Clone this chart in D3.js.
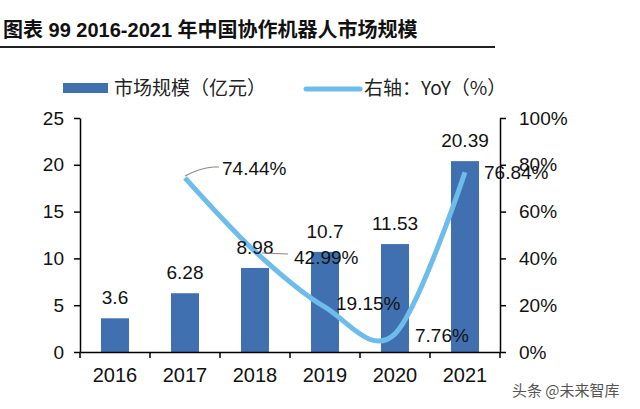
<!DOCTYPE html>
<html><head><meta charset="utf-8">
<script src="https://cdn.jsdelivr.net/npm/d3@7"></script>
<style>body{margin:0;background:#fff;} svg{display:block;}</style>
</head><body>
<svg id="c" width="640" height="409"></svg>
<script>
const years = ["2016","2017","2018","2019","2020","2021"];
const marketSize = [3.6, 6.28, 8.98, 10.7, 11.53, 20.39];
const yoyYears = ["2017","2018","2019","2020","2021"];
const yoy = [74.44, 42.99, 19.15, 7.76, 76.84];
const leftTicks = [0,5,10,15,20,25];
const rightTicks = [0,20,40,60,80,100];

const svg = d3.select("#c");
const latin = "'Liberation Sans', Arial, sans-serif";
const cjk = "'Noto Sans CJK SC', sans-serif";
const mixed = "'Liberation Sans', 'Noto Sans CJK SC', sans-serif";
const barColor = "#4170b0";
const lineColor = "#6dbcec";

const x = d3.scaleBand().domain(years).range([80,500]).paddingInner(0).paddingOuter(0);
const y = d3.scaleLinear().domain([0,25]).range([352,118]);
const y2 = d3.scaleLinear().domain([0,100]).range([352,118]);
const bw = 28;
const cx = d => x(d) + x.bandwidth()/2;

// title
svg.append("text").attr("x",3).attr("y",37).attr("font-family",mixed).attr("font-weight","bold")
  .attr("font-size",20).attr("fill","#111").text("图表 99 2016-2021 年中国协作机器人市场规模");
svg.append("line").attr("x1",0).attr("x2",495).attr("y1",47).attr("y2",47).attr("stroke","#222").attr("stroke-width",2);

// legend
svg.append("rect").attr("x",63).attr("y",83).attr("width",45).attr("height",10).attr("fill",barColor);
svg.append("text").attr("x",114).attr("y",95).attr("font-family",cjk).attr("font-size",19).attr("fill","#222").text("市场规模（亿元）");
svg.append("line").attr("x1",306).attr("x2",360).attr("y1",89).attr("y2",89).attr("stroke",lineColor).attr("stroke-width",5).attr("stroke-linecap","round");
svg.append("text").attr("x",364).attr("y",95).attr("font-family",cjk).attr("font-size",19).attr("fill","#222").text("右轴：YoY（%）");

// bars
svg.append("g").selectAll("rect").data(marketSize).join("rect")
  .attr("x",(d,i)=>cx(years[i])-bw/2).attr("width",bw)
  .attr("y",d=>y(d)).attr("height",d=>y(0)-y(d)).attr("fill",barColor);

// axes
const axL = svg.append("g").attr("transform","translate(80,0)")
  .call(d3.axisLeft(y).tickValues(leftTicks).tickSize(6).tickSizeOuter(0).tickPadding(10));
const axR = svg.append("g").attr("transform","translate(500,0)")
  .call(d3.axisRight(y2).tickValues(rightTicks).tickSize(6).tickSizeOuter(0).tickPadding(13).tickFormat(d=>d+"%"));
const axB = svg.append("g").attr("transform","translate(0,352)")
  .call(d3.axisBottom(x).tickSize(0).tickSizeOuter(0).tickPadding(16));
// boundary ticks on x axis
svg.append("g").selectAll("line").data(years.concat(["end"])).join("line")
  .attr("x1",(d,i)=>80+i*x.bandwidth()).attr("x2",(d,i)=>80+i*x.bandwidth())
  .attr("y1",352).attr("y2",358).attr("stroke","#000").attr("stroke-width",1.5);
[axL,axR,axB].forEach(a=>{
  a.selectAll("path,line").attr("stroke","#000").attr("stroke-width",1.5);
  a.selectAll("text").attr("font-family",latin).attr("font-size",19).attr("fill","#111");
});
axB.selectAll("text").attr("font-size",20);

// line (smoothed)
const line = d3.line().x((d,i)=>cx(yoyYears[i])).y(d=>y2(d)).curve(d3.curveCardinal.tension(0));
svg.append("path").datum(yoy).attr("d",line).attr("fill","none").attr("stroke",lineColor).attr("stroke-width",5);

// bar labels
svg.append("g").selectAll("text").data(marketSize).join("text")
  .attr("x",(d,i)=>cx(years[i])).attr("y",(d,i)=>y(d)-14)
  .attr("text-anchor","middle").attr("font-family",latin).attr("font-size",19).attr("fill","#111")
  .text(d=>d);

// leader lines
svg.append("path").attr("d","M185,176 Q200,168 213,167 L219,167").attr("fill","none").attr("stroke","#888").attr("stroke-width",1.2);
svg.append("line").attr("x1",262).attr("x2",288).attr("y1",253).attr("y2",254).attr("stroke","#888").attr("stroke-width",1.2);

// yoy labels
const yoyLabelXY = [[222,175],[294,264],[336,310],[415,342],[484,179]];
svg.append("g").selectAll("text").data(yoy).join("text")
  .attr("x",(d,i)=>yoyLabelXY[i][0]).attr("y",(d,i)=>yoyLabelXY[i][1])
  .attr("font-family",latin).attr("font-size",19).attr("fill","#111")
  .text(d=>d.toFixed(2)+"%");

// watermark
svg.append("text").attr("x",512).attr("y",396).attr("font-family",cjk).attr("font-size",15).attr("fill","#555").text("头条 @未来智库");
</script>
</body></html>
